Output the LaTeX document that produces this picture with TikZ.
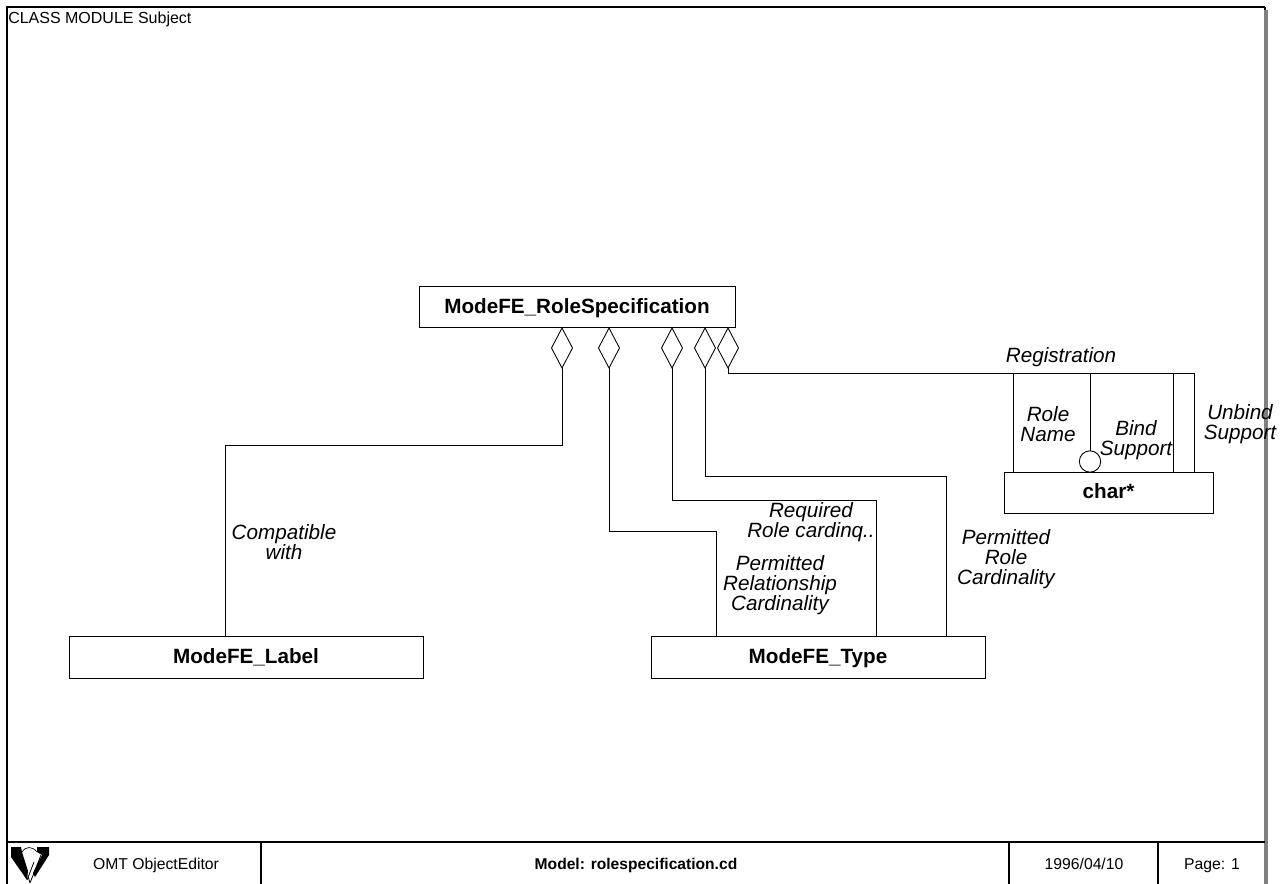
\documentclass[tikz,border=0pt]{standalone}
\usepackage{fontspec}
\setmainfont{Liberation Sans}
\usetikzlibrary{shapes.geometric}
\tikzset{
  x=0.75pt,y=-0.75pt,
  classbox/.style={draw=black,fill=white,line width=0.75pt,inner sep=0pt,outer sep=0pt,text height=12.8pt,text depth=3.2pt,font=\fontsize{15.5pt}{18pt}\selectfont\bfseries},
  agg/.style={draw=black,fill=white,diamond,line width=0.65pt,inner sep=0pt,outer sep=0pt,minimum width=15.75pt,minimum height=30pt,anchor=north},
  conn/.style={draw=black,line width=0.65pt},
  role/.style={font=\fontsize{15.5pt}{15pt}\selectfont\itshape,align=center,inner sep=0pt},
  foot/.style={font=\fontsize{11.8pt}{14pt}\selectfont,inner sep=0pt,anchor=base},
  frameline/.style={draw=black,line width=0.9pt},
}
\begin{document}
\begin{tikzpicture}
\useasboundingbox (0,0) rectangle (1286,884);
\fill[white] (0,0) rectangle (1286,884);
% frame
\coordinate (tl) at (7,7); \coordinate (tr) at (1265,7);
\coordinate (bl) at (7,884); \coordinate (br) at (1265,884);
\coordinate (fl) at (7,842); \coordinate (fr) at (1265,842);
\draw[black!50,line width=3pt] (1266,10) -- (1266,884);
\draw[frameline] (tr) -- (tl) -- (bl);
\draw[frameline] (tr) -- ++(0,3);
\draw[frameline] (fl) -- (fr);
\coordinate (d1) at (261,842); \coordinate (d1b) at (261,884);
\coordinate (d2) at (1009,842); \coordinate (d2b) at (1009,884);
\coordinate (d3) at (1158,842); \coordinate (d3b) at (1158,884);
\draw[frameline] (d1)--(d1b) (d2)--(d2b) (d3)--(d3b);
% footer text
\node[foot,anchor=base west,font=\fontsize{12pt}{14pt}\selectfont] (title) at (8,24) {CLASS MODULE Subject};
\node[foot] (app) at (156,869.5) {OMT ObjectEditor};
\node[foot,font=\fontsize{11.7pt}{14pt}\selectfont\bfseries] (model) at (636,869.5) {Model: rolespecification.cd};
\node[foot] (date) at (1084,869.5) {1996/04/10};
\node[foot] (page) at (1212,869.5) {Page: 1};
% logo
\fill[black] (11,847) -- (21,847) -- (22,852) -- (28,871) -- (27,880) -- (11,857) -- cycle;
\fill[black] (37,847) -- (49,847) -- (49,855) -- (35,877) -- (33,873) -- (42,855) -- (37,852) -- cycle;
\draw[black,line width=0.5pt] (22,852) .. controls (26,846) and (32,846) .. (37,852);
\draw[black,line width=0.6pt] (27,880) -- (34,862) (30,883) -- (41,855) (28,876) -- (30,883);
% classes
\node[classbox,minimum width=237pt,minimum height=30.75pt] (rs) at (577,307.5) {ModeFE\_RoleSpecification};
\node[classbox,minimum width=265.5pt,minimum height=31.5pt] (lab) at (246,657) {ModeFE\_Label};
\node[classbox,minimum width=250.5pt,minimum height=31.5pt] (typ) at (818,657) {ModeFE\_Type};
\node[classbox,minimum width=156.75pt,minimum height=30.75pt] (chr) at (1108.5,492.5) {char*};
% connector waypoints
\coordinate (w1a) at (562,445); \coordinate (w1b) at (225,445); \coordinate (e1) at (225,636);
\coordinate (w2a) at (609,531); \coordinate (w2b) at (716,531); \coordinate (e2) at (716,636);
\coordinate (w3a) at (672,500); \coordinate (w3b) at (876,500); \coordinate (e3) at (876,636);
\coordinate (w4a) at (705,476); \coordinate (w4b) at (946,476); \coordinate (e4) at (946,636);
\coordinate (w5a) at (728,373); \coordinate (j1) at (1013,373); \coordinate (j2) at (1090,373);
\coordinate (j3) at (1173,373); \coordinate (j4) at (1194,373);
\coordinate (e5) at (1013,472); \coordinate (e7) at (1173,472); \coordinate (e8) at (1194,472);
% aggregation diamonds
\node[agg] (a1) at (562,328) {};
\node[agg] (a2) at (609,328) {};
\node[agg] (a3) at (672,328) {};
\node[agg] (a4) at (705,328) {};
\node[agg] (a5) at (728,328) {};
% optional-role circle
\node[draw=black,fill=white,circle,line width=0.65pt,inner sep=0pt,outer sep=0pt,minimum size=16pt] (opt) at (1090,461.5) {};
% connectors
\draw[conn] (a1.south) -- (w1a) -- (w1b) -- (e1);
\draw[conn] (a2.south) -- (w2a) -- (w2b) -- (e2);
\draw[conn] (a3.south) -- (w3a) -- (w3b) -- (e3);
\draw[conn] (a4.south) -- (w4a) -- (w4b) -- (e4);
\draw[conn] (a5.south) -- (w5a) -- (j4) -- (e8);
\draw[conn] (j1) -- (e5);
\draw[conn] (j2) -- (opt.north);
\draw[conn] (j3) -- (e7);
% role labels
\node[role] (l1) at (284,542) {Compatible\\with};
\node[role] (l2) at (780,585.5) {Permitted\\Relationship\\Cardinality};
\node[role] (l3) at (811,522) {Required\\Role cardinq..};
\node[role] (l4) at (1006,559) {Permitted\\Role\\Cardinality};
\node[role] (l5) at (1061,357) {Registration};
\node[role] (l6) at (1048,424) {Role\\Name};
\node[role] (l7) at (1136,440) {Bind\\Support};
\node[role] (l8) at (1240,424) {Unbind\\Support};
\end{tikzpicture}
\end{document}
